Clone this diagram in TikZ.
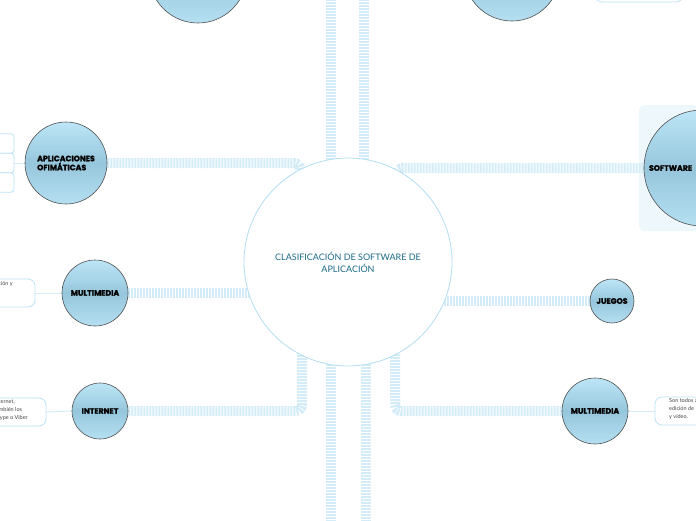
\documentclass[tikz,border=0pt]{standalone}
\usepackage{fontspec}
\setmainfont{Lato}
\newfontfamily\heavyfont{Poppins}[BoldFeatures={FakeBold=1.6}]
\usepackage{xcolor}
\usepackage{tikz}
\usetikzlibrary{positioning,calc,backgrounds}

\definecolor{branchblue}{HTML}{D3ECF8}
\definecolor{rootline}{HTML}{B3DFF3}
\definecolor{roottext}{HTML}{1B6A88}
\definecolor{topicA}{HTML}{BDE6F7}
\definecolor{topicB}{HTML}{96C6DC}
\definecolor{topicline}{HTML}{505050}
\definecolor{boxline}{HTML}{BCE3F5}
\definecolor{softbg}{HTML}{EEF7FC}
\definecolor{notetext}{HTML}{444444}

\tikzset{
	rootnode/.style={circle, draw=rootline, line width=0.8pt, fill=white, minimum size=208, inner sep=0pt,
		align=center, text=roottext, font=\fontsize{9}{12}\selectfont},
	topic/.style={circle, draw=topicline, line width=0.6pt, top color=topicA, bottom color=topicA!80!topicB,
		middle color=topicB, inner sep=0pt, align=left, font=\heavyfont\bfseries\fontsize{7.8}{9}\selectfont},
	branch/.style={draw=branchblue, line width=10pt, dash pattern=on 2pt off 1pt},
	twig/.style={draw=branchblue, line width=1pt},
	note/.style={draw=boxline, line width=0.8pt, fill=white, rounded corners=7, inner sep=0pt},
	notelabel/.style={text=notetext, inner sep=0pt, align=left, font=\fontsize{5.5}{8}\selectfont}
}

\begin{document}
\begin{tikzpicture}[x=1pt, y=-1pt]
		\useasboundingbox (0,0) rectangle (696,520);

		% centre
		\node[rootnode] (root) at (348,262) {CLASIFICACIÓN DE SOFTWARE DE\\APLICACIÓN};

		% topics
		\node[topic, minimum size=82] (ofim) at (66,163) {APLICACIONES\\OFIMÁTICAS};
		\node[topic, minimum size=66] (multiL) at (95,293) {MULTIMEDIA};
		\node[topic, minimum size=56] (inet) at (100,411) {INTERNET};
		\node[topic, minimum size=116, text width=106] (soft) at (702,168) {SOFTWARE};
		\node[topic, minimum size=44] (games) at (612,301) {JUEGOS};
		\node[topic, minimum size=66] (multiR) at (595,411) {MULTIMEDIA};
		\node[topic, minimum size=98] (topL) at (198,-26) {};
		\node[topic, minimum size=96] (topR) at (512,-27) {};

		% notes
		\node[note, rounded corners=3, minimum width=60, minimum height=19.5] (ofimA) at (-16,143.5) {};
		\node[note, rounded corners=3, minimum width=60, minimum height=19.5] (ofimB) at (-16,163) {};
		\node[note, rounded corners=3, minimum width=60, minimum height=19.5] (ofimC) at (-16,182.5) {};
		\node[note, minimum width=95, minimum height=28] (multiLnote) at (-12.5,293) {};
		\node[notelabel, anchor=north east] (multiLtext) at (13,281) {edición y};
		\node[note, minimum width=126, minimum height=28] (inetnote) at (-17,412) {};
		\node[notelabel, anchor=north west] (inettext) at (-6,399) {Internet,\\también los\\Skype o Viber};
		\node[note, minimum width=90, minimum height=28] (multiRnote) at (700,411) {};
		\node[notelabel, anchor=north west] (multiRtext) at (669,398) {Son todos aquellos\\edición de\\y vídeo.};
		\node[note, minimum width=88, minimum height=30] (topRnote) at (639,-13) {};

		\coordinate (upA) at (331,-10);
		\coordinate (upB) at (364,-10);
		\coordinate (downA) at (331,530);
		\coordinate (downB) at (366,530);

		\begin{scope}[on background layer]
			\node[fill=softbg, rounded corners=6, minimum width=80, minimum height=126] (softpanel) at (679,168) {};

			\draw[branch, rounded corners=6] (ofim.east) -| ($(root.center)+(-48,0)$);
			\draw[branch, rounded corners=6] (soft.west) -| ($(root.center)+(49,0)$);
			\draw[branch] (multiL.east) -- (multiL.east -| root.center);
			\draw[branch] (games.west) -- (games.west -| root.center);
			\draw[branch, rounded corners=6] (inet.east) -| ($(root.center)+(-46,0)$);
			\draw[branch, rounded corners=6] (multiR.west) -| ($(root.center)+(47,0)$);
			\draw[branch] (upA |- root.center) -- (upA);
			\draw[branch] (upB |- root.center) -- (upB);
			\draw[branch] (downA |- root.center) -- (downA);
			\draw[branch] (downB |- root.center) -- (downB);

			\draw[twig] (ofim.west) -- (ofimB.east);
			\draw[twig] (multiL.west) -- (multiLnote.east);
			\draw[twig] (inet.west) -- (inetnote.east);
			\draw[twig] (multiR.east) -- (multiRnote.west);
		\end{scope}
	\end{tikzpicture}
\end{document}
